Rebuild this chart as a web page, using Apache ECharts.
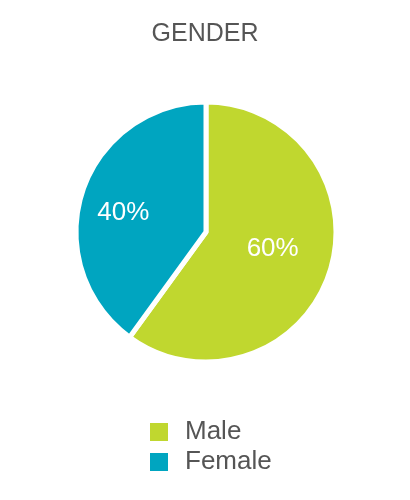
<!DOCTYPE html>
<html><head><meta charset="utf-8">
<script src="https://cdn.jsdelivr.net/npm/echarts@6/dist/echarts.min.js"></script>
<style>html,body{margin:0;padding:0;background:#fff}#c{width:410px;height:500px}</style>
</head><body><div id="c"></div>
<script>
var titleText = 'GENDER';
var categories = ['Male', 'Female'];
var values = [60, 40];
var colors = ['#c0d72f', '#00a5c0'];
var labelOffsets = [[2, -4], [-18, 2]];

var chart = echarts.init(document.getElementById('c'));
chart.setOption({
  animation: false,
  title: {
    text: titleText, left: 'center', top: 17,
    textStyle: {fontFamily: 'Liberation Sans', fontSize: 25, fontWeight: 'normal', color: '#555'}
  },
  legend: {
    orient: 'vertical', left: 143, top: 414,
    itemWidth: 20, itemHeight: 20, itemGap: 4,
    icon: 'rect',
    data: categories,
    textStyle: {fontFamily: 'Liberation Sans', fontSize: 26, color: '#555', padding: [0, 0, 0, 11]}
  },
  series: [{
    type: 'pie',
    center: [206, 232],
    radius: 130,
    startAngle: 90,
    clockwise: true,
    itemStyle: {borderColor: '#fff', borderWidth: 5},
    label: {
      show: true, position: 'inside', formatter: '{c}%',
      color: '#fff', fontFamily: 'Liberation Sans', fontSize: 26
    },
    labelLine: {show: false},
    emphasis: {disabled: true},
    data: categories.map(function (n, i) {
      return {name: n, value: values[i], itemStyle: {color: colors[i]}, label: {offset: labelOffsets[i]}};
    })
  }]
});
</script></body></html>
